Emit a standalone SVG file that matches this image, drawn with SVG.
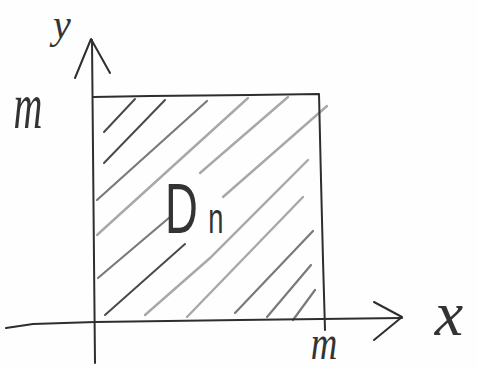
<svg xmlns="http://www.w3.org/2000/svg" width="477" height="370" viewBox="0 0 477 370">
<style>
.ax{fill:none;stroke:#2e2e2e;stroke-width:2;stroke-linecap:round;stroke-linejoin:round}
.hd{fill:none;stroke:#4a4a4a;stroke-width:2;stroke-linecap:round}
.hm{fill:none;stroke:#7a7a7a;stroke-width:2.2;stroke-linecap:round}
.hl{fill:none;stroke:#a8a8a8;stroke-width:2.4;stroke-linecap:round}
.lbl{fill:#333;font-family:"Liberation Serif",serif;font-style:italic}
.dn{fill:#333;font-family:"Liberation Sans",sans-serif}
</style>
<rect width="477" height="370" fill="#fefefe"/>
<g id="hatching">
<path class="hd" d="M104,132 L135,99"/>
<path class="hd" d="M104,163 L165,100"/>
<path class="hm" d="M97,200 L207,101"/>
<path class="hl" d="M97,235 L248,98"/>
<path class="hl" d="M200,173 L288,97"/>
<path class="hm" d="M98,278 L170,217"/>
<path class="hl" d="M223,197 L327,106"/>
<path class="hd" d="M105,315 L185,244"/>
<path class="hl" d="M308,160 L210,258 L145,315"/>
<path class="hl" d="M303,197 L187,317"/>
<path class="hm" d="M313,231 L235,313"/>
<path class="hm" d="M311,265 L267,317"/>
<path class="hm" d="M315,290 L293,320"/>
</g>
<g id="region">
<path class="ax" d="M93,97 L150,96 L250,95 L319,94 L321,180 L323,260 L325,330"/>
</g>
<g id="axes">
<path id="y-axis" class="ax" d="M92,40 L93,150 L94,260 L95,363"/>
<path id="y-arrow" class="ax" d="M75,78 L91,39 L110,73"/>
<path id="x-axis" class="ax" d="M6,328 L33,324 L95,322 L240,320 L402,318"/>
<path id="x-arrow" class="ax" d="M374,302 L402,317 L374,340"/>
</g>
<g id="labels">
<text class="lbl" x="62" y="38" font-size="40" text-anchor="middle">y</text>
<text class="lbl" transform="translate(28,128) scale(1,1.65)" font-size="40" text-anchor="middle">m</text>
<text class="lbl" transform="translate(324,359) scale(1.15,1.5)" font-size="32" text-anchor="middle">m</text>
<text class="lbl" x="449" y="335" font-size="64" text-anchor="middle">x</text>
<text class="dn" transform="translate(165,233) scale(0.65,1)"><tspan font-size="70">D</tspan><tspan font-size="42" dx="16">n</tspan></text>
</g>
</svg>
